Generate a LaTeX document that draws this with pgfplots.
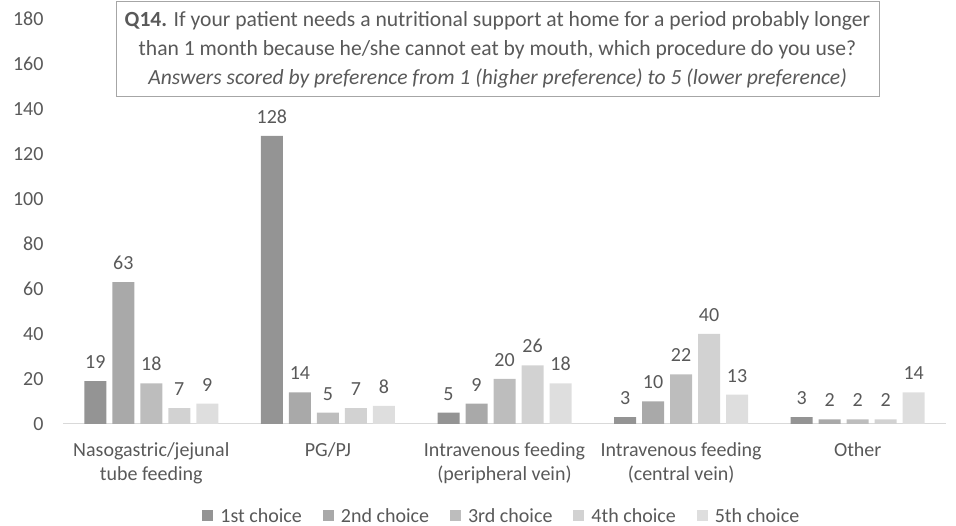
\documentclass[border=0pt]{standalone}
\usepackage{pgfplots}
\pgfplotsset{compat=1.18}
\usepackage{fontspec}
\setmainfont{Carlito}
\definecolor{txt}{HTML}{595959}
\definecolor{c1}{HTML}{949494}
\definecolor{c2}{HTML}{A9A9A9}
\definecolor{c3}{HTML}{BDBDBD}
\definecolor{c4}{HTML}{D2D2D2}
\definecolor{c5}{HTML}{DEDEDE}
\definecolor{axl}{HTML}{D9D9D9}
\definecolor{boxl}{HTML}{A6A6A6}
\begin{document}
\begin{tikzpicture}[x=1pt,y=1pt]
\useasboundingbox (0,0) rectangle (956,526);
\begin{axis}[
  at={(63pt,102pt)}, anchor=south west,
  scale only axis, width=883pt, height=405pt,
  xmin=-0.5, xmax=4.5, ymin=0, ymax=180,
  ytick={0,20,...,180},
  xtick={0,1,2,3,4},
  xticklabels={{Nasogastric/jejunal\\tube feeding},{PG/PJ},{Intravenous feeding\\(peripheral vein)},{Intravenous feeding\\(central vein)},{Other}},
  axis lines*=left,
  y axis line style={draw=none},
  x axis line style={draw=axl, line width=1pt},
  major tick length=0pt,
  font=\fontsize{20}{24}\selectfont,
  /pgf/number format/assume math mode=true,
  tick label style={text=txt, font=\fontsize{20}{24}\selectfont},
  xticklabel style={align=center, yshift=-15pt},
  yticklabel style={xshift=-16pt},
  ybar=6pt, bar width=22pt,
  nodes near coords,
  nodes near coords style={text=txt, font=\fontsize{20}{24}\selectfont, yshift=9pt},
  legend columns=5,
  legend style={draw=none, at={(0.497,-0.227)}, anchor=center, font=\fontsize{20}{24}\selectfont, text=txt,
    /tikz/every even column/.append style={column sep=19pt}},
  legend image code/.code={\fill[#1] (0pt,-5pt) rectangle (11pt,6pt);},
  legend style={/tikz/every odd column/.append style={column sep=5pt}},
]
\addplot[fill=c1, draw=none] coordinates {(0,19) (1,128) (2,5) (3,3) (4,3)};
\addplot[fill=c2, draw=none] coordinates {(0,63) (1,14) (2,9) (3,10) (4,2)};
\addplot[fill=c3, draw=none] coordinates {(0,18) (1,5) (2,20) (3,22) (4,2)};
\addplot[fill=c4, draw=none] coordinates {(0,7) (1,7) (2,26) (3,40) (4,2)};
\addplot[fill=c5, draw=none] coordinates {(0,9) (1,8) (2,18) (3,13) (4,14)};
\legend{1st choice,2nd choice,3rd choice,4th choice,5th choice}
\end{axis}
\node[draw=boxl, line width=1pt, fill=white, minimum width=763pt, minimum height=95pt, inner xsep=2pt, align=center, text=txt, font=\fontsize{21.6}{29}\selectfont] at (497.5,476.5)
 {\textbf{Q14.} If your patient needs a nutritional support at home for a period probably longer\\than 1 month because he/she cannot eat by mouth, which procedure do you use?\\\textit{Answers scored by preference from 1 (higher preference) to 5 (lower preference)}};
\end{tikzpicture}
\end{document}
